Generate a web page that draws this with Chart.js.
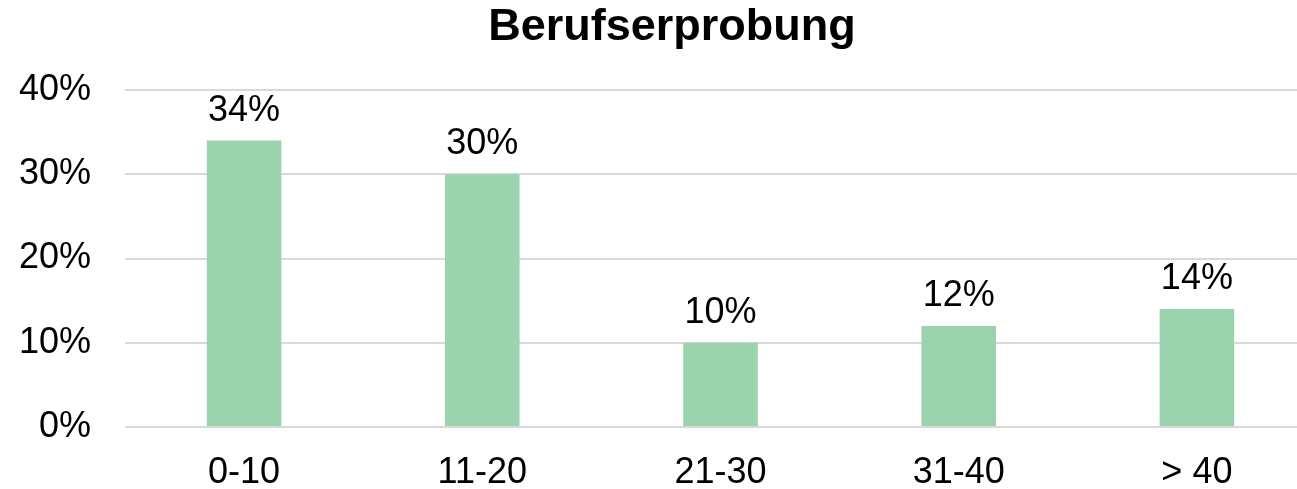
<!DOCTYPE html>
<html>
<head>
<meta charset="utf-8">
<script src="https://cdn.jsdelivr.net/npm/chart.js@4/dist/chart.umd.min.js"></script>
<style>
    html, body { margin: 0; padding: 0; background: #fff; overflow: hidden; }
    #wrap { position: absolute; left: 0; top: 0; width: 1344px; height: 489px; }
</style>
</head>
<body>
<div id="wrap"><canvas id="chart"></canvas></div>
<script>
// Chart data
const categories = ['0-10', '11-20', '21-30', '31-40', '> 40'];
const shares = [34, 30, 10, 12, 14];
const yTickMax = 40;
const yTickStep = 10;

const font = "'Liberation Sans', Arial, sans-serif";

// Draws the percentage above each bar
const valueLabels = {
    id: 'valueLabels',
    afterDatasetsDraw(chart) {
        const ctx = chart.ctx;
        const meta = chart.getDatasetMeta(0);
        ctx.save();
        ctx.font = `36px ${font}`;
        ctx.fillStyle = '#000';
        ctx.textAlign = 'center';
        ctx.textBaseline = 'alphabetic';
        meta.data.forEach((bar, i) => {
            ctx.fillText(shares[i] + '%', bar.x, bar.y - 20);
        });
        ctx.restore();
    }
};

new Chart(document.getElementById('chart'), {
    type: 'bar',
    data: {
        labels: categories,
        datasets: [{
            data: shares,
            backgroundColor: '#9BD3AE',
            barPercentage: 0.313,
            categoryPercentage: 1
        }]
    },
    options: {
        responsive: true,
        maintainAspectRatio: false,
        animation: false,
        layout: { padding: 0 },
        plugins: {
            legend: { display: false },
            tooltip: { enabled: false },
            title: {
                display: true,
                text: 'Berufserprobung',
                color: '#000',
                font: { family: font, size: 45, weight: 'bold' },
                padding: { top: 1, bottom: 35 }
            }
        },
        scales: {
            x: {
                afterFit(scale) { scale.height = 62; },
                grid: { display: false },
                border: { display: false },
                ticks: {
                    color: '#000',
                    padding: 16,
                    font: { family: font, size: 36 }
                }
            },
            y: {
                min: 0,
                max: yTickMax,
                afterFit(scale) { scale.width = 125; },
                grid: { color: '#d9d9d9', lineWidth: 2, drawTicks: false },
                border: { display: false },
                ticks: {
                    stepSize: yTickStep,
                    color: '#000',
                    padding: 34,
                    font: { family: font, size: 36 },
                    callback: (v) => v + '%'
                }
            },
            // empty spacer on the right so the plot runs past the window edge
            spacer: {
                type: 'linear',
                position: 'right',
                afterFit(scale) { scale.width = 28; },
                grid: { display: false },
                border: { display: false },
                ticks: { display: false }
            }
        }
    },
    plugins: [valueLabels]
});
</script>
</body>
</html>
